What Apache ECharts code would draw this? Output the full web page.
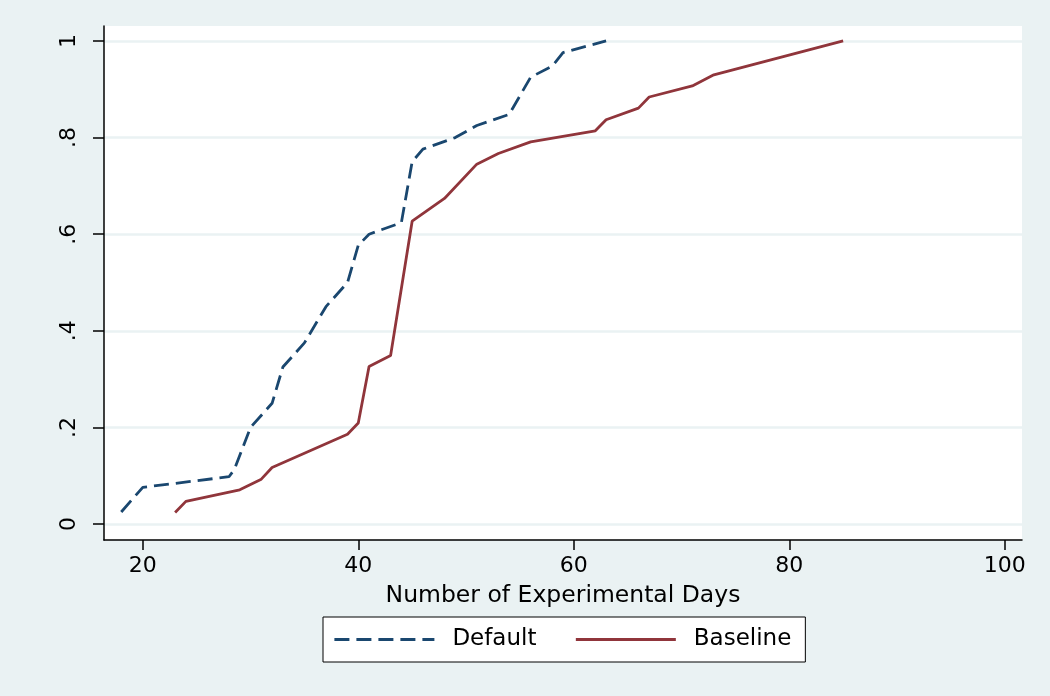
<!DOCTYPE html>
<html>
<head>
<meta charset="utf-8">
<script src="https://cdn.jsdelivr.net/npm/echarts@6/dist/echarts.min.js"></script>
<style>
html,body{margin:0;padding:0;background:#eaf2f3;}
#chart{width:1050px;height:696px;}
</style>
</head>
<body>
<div id="chart"></div>
<script>
// Default series (dashed navy): days and cumulative share
const defaultDays = [18, 20, 28, 28.5, 30, 32, 33, 35, 37, 39, 40, 41, 44, 45, 46, 49, 51, 54, 56, 58, 59, 63];
const defaultCdf  = [0.025, 0.076, 0.098, 0.113, 0.2, 0.25, 0.325, 0.375, 0.45, 0.5, 0.577, 0.6, 0.624, 0.75, 0.776, 0.8, 0.825, 0.848, 0.925, 0.948, 0.976, 1.0];
// Baseline series (solid maroon)
const baselineDays = [23, 24, 29, 31, 32, 39, 40, 41, 43, 45, 48, 51, 53, 56, 62, 63, 66, 67, 71, 73, 85];
const baselineCdf  = [0.024, 0.047, 0.071, 0.093, 0.117, 0.186, 0.209, 0.326, 0.349, 0.627, 0.674, 0.745, 0.767, 0.791, 0.814, 0.837, 0.861, 0.884, 0.907, 0.930, 1.0];
// Tick labels
const xTicks = [20, 40, 60, 80, 100];
const yTicks = [0, 0.2, 0.4, 0.6, 0.8, 1];
const xTitle = 'Number of Experimental Days';
const seriesNames = ['Default', 'Baseline'];

const FONT = 'DejaVu Sans';
const chart = echarts.init(document.getElementById('chart'), null, {renderer: 'canvas'});

function pairs(xs, ys) { return xs.map((x, i) => [x, ys[i]]); }

chart.setOption({
  backgroundColor: '#eaf2f3',
  animation: false,
  grid: {
    left: 104, right: 28, top: 26, bottom: 156,
    show: true, backgroundColor: '#ffffff', borderWidth: 0
  },
  legend: {
    data: seriesNames,
    left: 323, top: 617,
    orient: 'horizontal',
    itemWidth: 100, itemHeight: 14,
    itemGap: 38,
    padding: [9, 14, 9, 10],
    backgroundColor: '#ffffff',
    borderColor: '#000000',
    borderWidth: 1,
    borderRadius: 0,
    itemStyle: {opacity: 0},
    lineStyle: {width: 2.8},
    textStyle: {
      fontFamily: FONT, fontSize: 23, color: '#000000',
      lineHeight: 27, padding: [0, 0, 0, 13]
    }
  },
  xAxis: {
    type: 'value',
    min: 16.4, max: 101.6,
    name: xTitle,
    nameLocation: 'middle',
    nameGap: 44,
    nameTextStyle: {fontFamily: FONT, fontSize: 23.5, color: '#000000'},
    axisLine: {show: true, onZero: false, lineStyle: {color: '#000000', width: 1.5}},
    axisTick: {show: true, length: 10, customValues: xTicks, lineStyle: {color: '#000000', width: 1.5}},
    axisLabel: {
      customValues: xTicks, margin: 15,
      fontFamily: FONT, fontSize: 22, color: '#000000',
      showMinLabel: true, showMaxLabel: true
    },
    splitLine: {show: false}
  },
  yAxis: {
    type: 'value',
    min: -0.033, max: 1.031,
    axisLine: {show: true, onZero: false, lineStyle: {color: '#000000', width: 1.5}},
    axisTick: {show: true, length: 11, customValues: yTicks, lineStyle: {color: '#000000', width: 1.5}},
    axisLabel: {
      customValues: yTicks, rotate: 90, margin: 24,
      fontFamily: FONT, fontSize: 22, color: '#000000',
      formatter: function (v) {
        if (Math.abs(v) < 1e-9) return '0';
        if (Math.abs(v - 1) < 1e-9) return '1';
        return String(Math.round(v * 10) / 10).replace(/^0/, '');
      }
    },
    splitLine: {show: true, lineStyle: {color: '#eaf2f3', width: 2.5}}
  },
  series: [
    {
      name: seriesNames[0], type: 'line',
      data: pairs(defaultDays, defaultCdf),
      symbol: 'none', showSymbol: false,
      itemStyle: {color: '#1a476f'},
      lineStyle: {color: '#1a476f', width: 2.8, type: [15, 7], cap: 'butt'},
      z: 3
    },
    {
      name: seriesNames[1], type: 'line',
      data: pairs(baselineDays, baselineCdf),
      symbol: 'none', showSymbol: false,
      itemStyle: {color: '#90353b'},
      lineStyle: {color: '#90353b', width: 2.8, type: 'solid'},
      z: 2
    }
  ]
});
</script>
</body>
</html>
